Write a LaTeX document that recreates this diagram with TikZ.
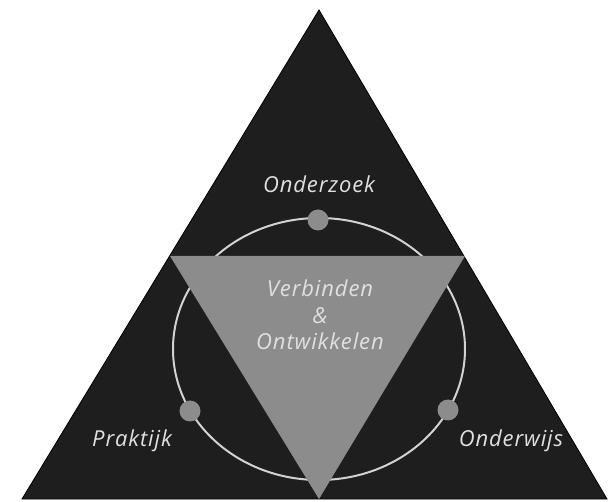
\documentclass[tikz,border=0pt]{standalone}
\usepackage{fontspec}
\setsansfont[LetterSpace=4]{Open Sans}
\definecolor{darkfill}{HTML}{1E1E1E}
\definecolor{midgray}{HTML}{8C8C8C}
\definecolor{ringgray}{HTML}{D2D2D2}
\definecolor{labelgray}{HTML}{E0E0E0}
\tikzset{labeltext/.style={text=labelgray, font=\sffamily\itshape\fontsize{22}{26.5}\selectfont, align=center}}
\begin{document}
\begin{tikzpicture}[x=1pt,y=-1pt]
\useasboundingbox (0,0) rectangle (608,502);

%Outer Triangle
\coordinate (top) at (319,10);
\coordinate (left) at (22,499);
\coordinate (right) at (607,499);
\filldraw [darkfill, draw=black, line width=0.8pt] (top) -- (left) -- (right) -- cycle;

%Ring
\draw [ringgray, line width=2pt] (319,349) ellipse (146 and 131);

%Inner Triangle
\fill [midgray] (170,256) -- (465,256) -- (319,499) -- cycle;

%Dots on Ring
\foreach \x/\y in {318/220,190/411,448/410}
	\fill [midgray] (\x,\y) circle (10.5);

%Labels
\node [labeltext] (onderzoek) at (319,184) {Onderzoek};
\node [labeltext] (kern) at (320,315) {Verbinden\\\&\\Ontwikkelen};
\node [labeltext] (praktijk) at (132,441) {Praktijk};
\node [labeltext] (onderwijs) at (511,441) {Onderwijs};
\end{tikzpicture}
\end{document}
